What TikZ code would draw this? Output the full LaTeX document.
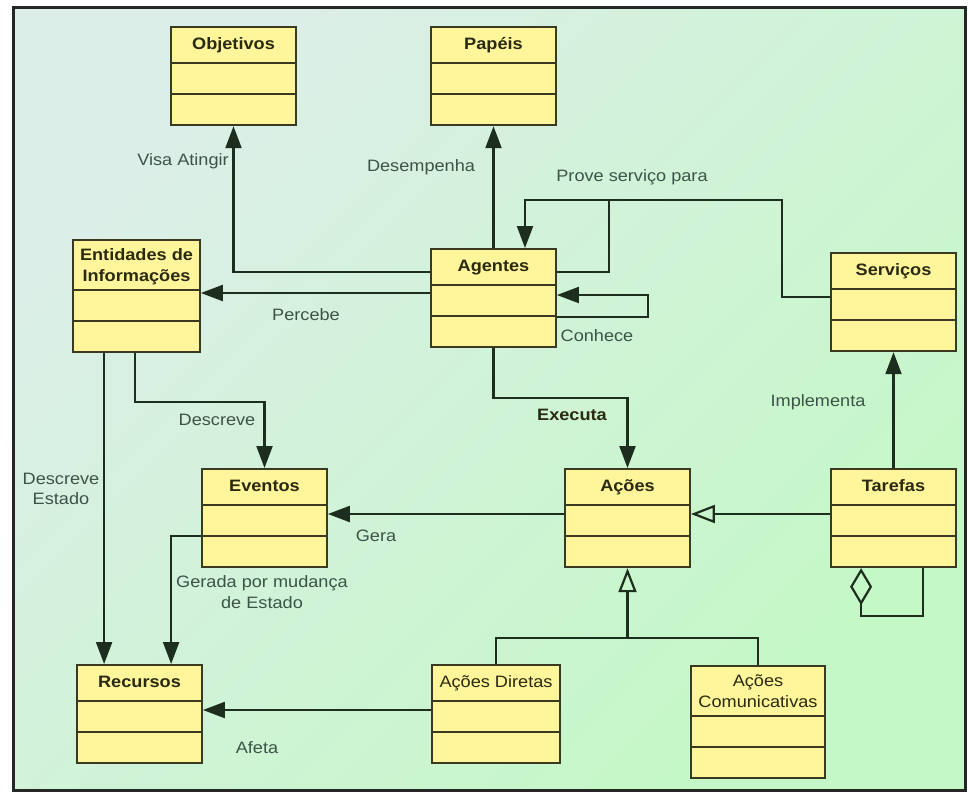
\documentclass[tikz,border=0pt]{standalone}
\usepackage{fontspec}
\setmainfont{Liberation Sans}[FakeStretch=1.1]
\usetikzlibrary{shapes.multipart,arrows.meta}
\definecolor{fillc}{HTML}{FFF59A}
\definecolor{boxc}{HTML}{3A3A20}
\definecolor{linec}{HTML}{1E2E1E}
\definecolor{lblc}{HTML}{3C5448}
\definecolor{titc}{HTML}{2A2A10}
\definecolor{bgtl}{HTML}{DCEEE8}
\definecolor{bgmid}{HTML}{CDF2D3}
\definecolor{bgbr}{HTML}{C4F8C6}
\definecolor{framec}{HTML}{262626}
\newcommand{\fsz}{\fontsize{16.5pt}{20.5pt}\selectfont}
\newcommand{\hdone}{\rule[-12pt]{0pt}{34pt}}
\newcommand{\hdtwo}{\rule[-7.5pt]{0pt}{48pt}}
\begin{document}
\begin{tikzpicture}[x=1pt, y=-1pt,
    cls/.style={rectangle split, rectangle split parts=3, draw=boxc, fill=fillc, line width=1.8pt,
        inner xsep=2pt, inner ysep=0pt, rectangle split empty part height=29.5pt,
        rectangle split empty part depth=0pt, minimum width=125pt, font=\fsz\bfseries, text=titc, anchor=north},
    lbl/.style={font=\fsz, text=lblc, inner sep=0pt, align=center},
    conn/.style={draw=linec, line width=2.2pt},
    arr/.style={conn, -{Triangle[length=22pt,width=16pt]}},
    gen/.style={conn, -{Triangle[open,length=24pt,width=18pt]}},
    agg/.style={conn, {Diamond[open,length=37pt,width=22pt]}-}]
    \useasboundingbox (0,0) rectangle (968,793);
    \fill[white] (0,0) rectangle (968,793);
    \shade[top color=bgtl, middle color=bgmid, bottom color=bgbr, shading angle=45] (13,7) rectangle (965,790);
    \draw[line width=3pt, draw=framec] (13,7) rectangle (965,790);
    \node[cls] (obj) at (233.5,26) {\hdone Objetivos};
    \node[cls] (pap) at (493.5,26) {\hdone Papéis};
    \node[cls] (agt) at (493.5,248) {\hdone Agentes};
    \node[cls, minimum width=127pt] (ent) at (136.5,239) {\hdtwo\begin{tabular}[b]{@{}c@{}}Entidades de\\Informações\end{tabular}};
    \node[cls] (srv) at (893.5,252) {\hdone Serviços};
    \node[cls] (evt) at (264.5,468) {\hdone Eventos};
    \node[cls] (act) at (627.5,468) {\hdone Ações};
    \node[cls] (tar) at (893.5,468) {\hdone Tarefas};
    \node[cls] (rec) at (139.5,664) {\hdone Recursos};
    \node[cls, minimum width=128pt, font=\fsz] (dir) at (496,664) {\hdone Ações Diretas};
    \node[cls, minimum width=134pt, font=\fsz] (com) at (758,665) {\hdtwo\begin{tabular}[b]{@{}c@{}}Ações\\Comunicativas\end{tabular}};
    \coordinate (pj) at (609,200);
    \coordinate (gj) at (627.5,638);
    \draw[arr] ([yshift=-24pt]agt.north west) -| (obj.south);
    \draw[arr] (agt.north) -- (pap.south);
    \draw[arr] ([yshift=-45pt]agt.north west) coordinate (pa) -- (pa -| ent.east);
    \draw[arr] ([yshift=-45pt]srv.north west) -| (782,200) -- (pj) -| ([xshift=31.5pt]agt.north);
    \draw[conn] ([yshift=-24pt]agt.north east) -| (pj);
    \draw[arr] ([yshift=-69pt]agt.north east) -- ++(91,0) |- ([yshift=-47pt]agt.north east);
    \draw[arr] (agt.south) -- ++(0,50) -| (act.north);
    \draw[arr] ([xshift=32pt]ent.south west) coordinate (pb) -- (pb |- rec.north);
    \draw[arr] ([xshift=63pt]ent.south west) -- ++(0,49) -| (evt.north);
    \draw[arr] ([yshift=-68pt]evt.north west) -| ([xshift=95pt]rec.north west);
    \draw[arr] ([yshift=-46pt]act.north west) coordinate (pc) -- (pc -| evt.east);
    \draw[gen] ([yshift=-46pt]tar.north west) coordinate (pd) -- (pd -| act.east);
    \draw[arr] (tar.north) -- (srv.south);
    \draw[agg] ([xshift=31pt]tar.south west) -- ++(0,48) -| ([xshift=93pt]tar.south west);
    \draw[gen] (dir.north) |- (gj) -- (act.south);
    \draw[conn] (com.north) |- (gj);
    \draw[arr] ([yshift=-46pt]dir.north west) coordinate (pe) -- (pe -| rec.east);
    \node[lbl] (lvisa) at (183,161) {Visa Atingir};
    \node[lbl] (ldes) at (421,167) {Desempenha};
    \node[lbl] (lper) at (306,315) {Percebe};
    \node[lbl] (lprv) at (632,177) {Prove serviço para};
    \node[lbl] (lcon) at (597,336) {Conhece};
    \node[lbl, font=\fsz\bfseries, text=titc] (lexe) at (572,415) {Executa};
    \node[lbl] (limp) at (818,402) {Implementa};
    \node[lbl] (lest) at (61,489) {Descreve\\Estado};
    \node[lbl] (ldsc) at (217,420) {Descreve};
    \node[lbl] (lger) at (376,536) {Gera};
    \node[lbl] (lmud) at (262,592) {Gerada por mudança\\de Estado};
    \node[lbl] (laf) at (257,748) {Afeta};
\end{tikzpicture}
\end{document}
